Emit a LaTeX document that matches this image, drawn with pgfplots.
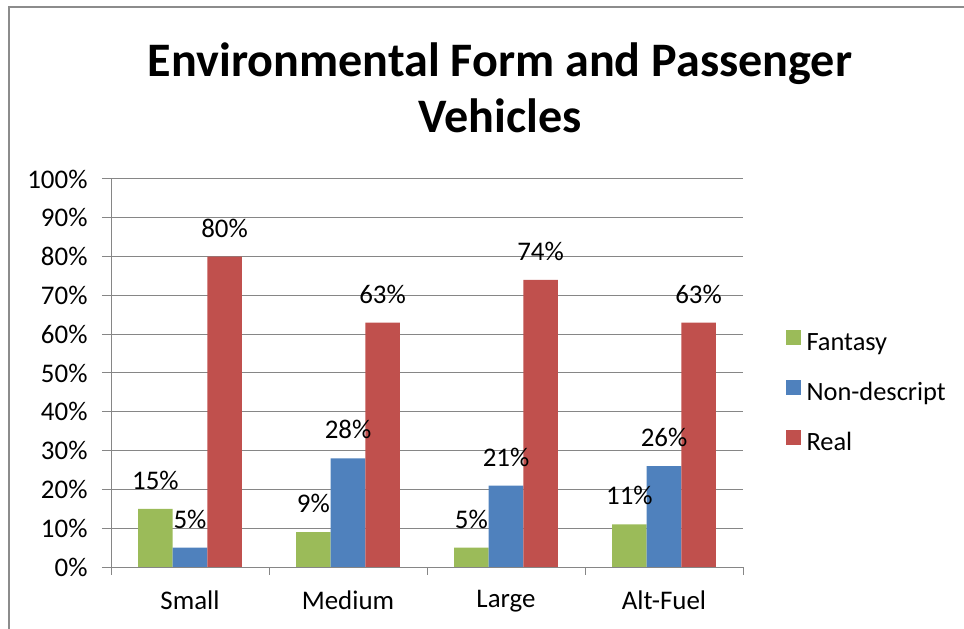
\documentclass[border=0pt]{standalone}
\usepackage{fontspec}
\setmainfont{Carlito}
\usepackage{pgfplots}
\pgfplotsset{compat=1.18}

\definecolor{fantasy}{HTML}{9BBB59}
\definecolor{nondesc}{HTML}{4F81BD}
\definecolor{real}{HTML}{C0504D}
\definecolor{gridgray}{HTML}{868686}
\definecolor{framegray}{HTML}{8C8C8C}

\begin{document}
\begin{tikzpicture}[x=1bp,y=1bp]
\useasboundingbox (0bp,0bp) rectangle (964bp,629bp);
% chart frame
\draw[framegray, line width=2bp] (9bp,0bp) -- (9bp,622bp) -- (964bp,622bp);
% title
\node[anchor=base, font=\fontsize{48.3}{56}\selectfont\bfseries] at (500bp,552bp) {Environmental Form and Passenger};
\node[anchor=base, font=\fontsize{48.3}{56}\selectfont\bfseries] at (500bp,496bp) {Vehicles};

\begin{axis}[
  at={(111bp,62bp)}, anchor=south west,
  scale only axis, width=632bp, height=388bp,
  ybar=0pt, bar width=0.219,
  xmin=-0.5, xmax=3.5, ymin=0, ymax=100,
  xtick={0,1,2,3}, xticklabels={Small,Medium,Large,Alt-Fuel},
  minor xtick={-0.5,0.5,1.5,2.5,3.5},
  ytick={0,10,...,100},
  yticklabels={0\%,10\%,20\%,30\%,40\%,50\%,60\%,70\%,80\%,90\%,100\%},
  ymajorgrids, grid style={gridgray, line width=1bp},
  axis x line*=bottom, axis y line*=left,
  axis line style={-, gridgray, line width=1bp},
  tick align=outside,
  major x tick style={draw=none},
  major tick length=9bp, minor tick length=8bp,
  tick style={gridgray, line width=1bp},
  ticklabel style={font=\fontsize{27}{31}\selectfont, text=black},
  xticklabel style={yshift=-11bp},
  yticklabel style={xshift=-11bp},
  nodes near coords={\pgfmathprintnumber[fixed,precision=0,assume math mode=true]{\pgfplotspointmeta}\%},
  nodes near coords style={font=\fontsize{27}{31}\selectfont, anchor=south, inner sep=0pt, yshift=19bp, text=black},
  legend cell align=left,
  legend image code/.code={\fill[#1] (0bp,0bp) rectangle (15bp,15bp);},
  legend style={at={(1.067,0.446)}, anchor=west, draw=none, fill=none,
    font=\fontsize{26.5}{30}\selectfont, inner sep=0pt, row sep=22bp,
    nodes={inner xsep=6bp, inner ysep=0pt, text height=19bp, text depth=7bp}},
]
\addplot[fill=fantasy, draw=none] coordinates {(0,15) (1,9) (2,5) (3,11)};
\addplot[fill=nondesc, draw=none] coordinates {(0,5) (1,28) (2,21) (3,26)};
\addplot[fill=real, draw=none] coordinates {(0,80) (1,63) (2,74) (3,63)};
\legend{Fantasy,Non-descript,Real}
\end{axis}
\end{tikzpicture}
\end{document}
